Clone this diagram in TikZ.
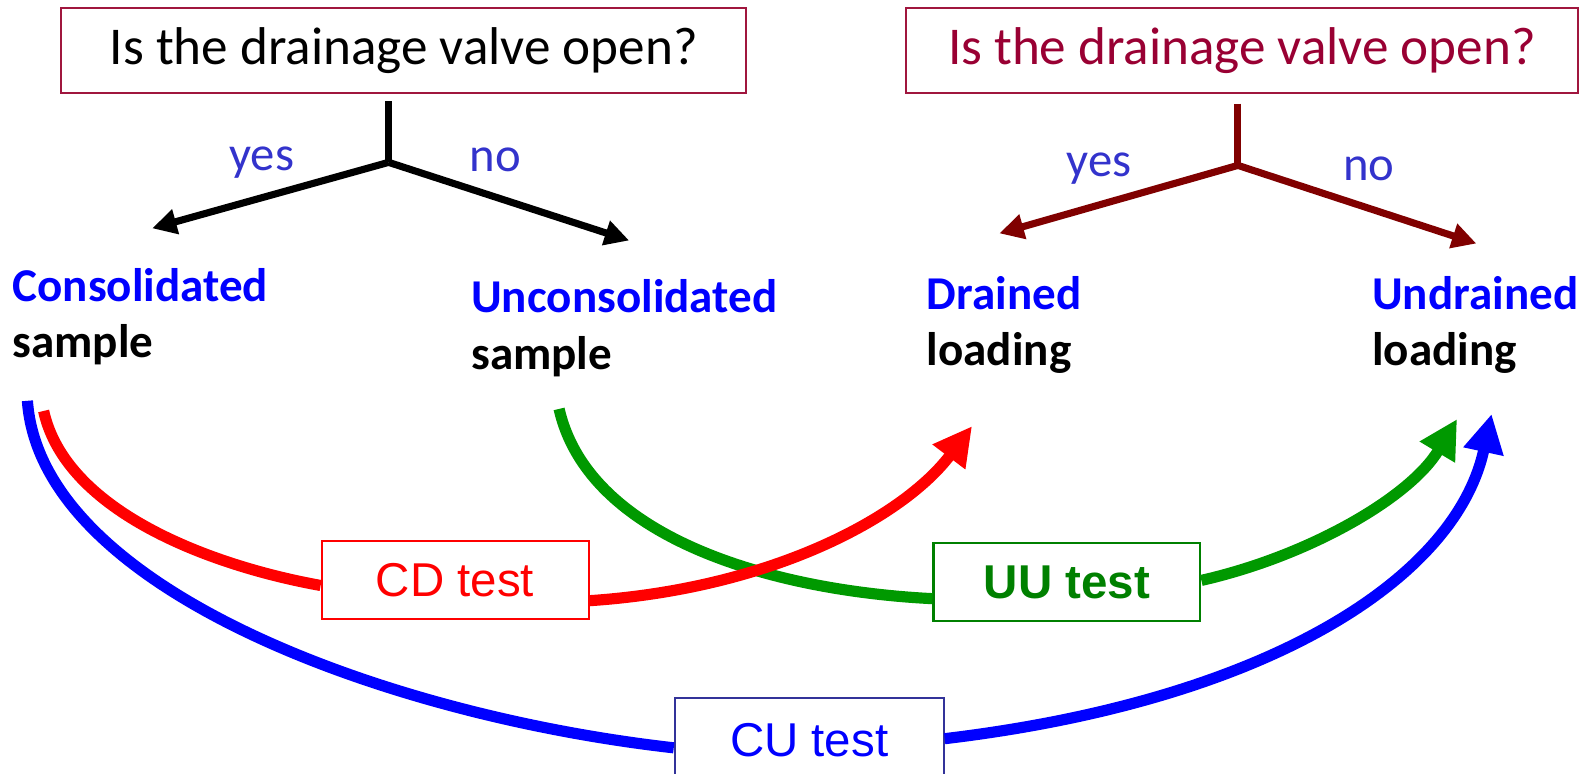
\documentclass[tikz,border=0pt]{standalone}
\usepackage{fontspec}
\setmainfont{Carlito}
\newfontfamily\arialf{Liberation Sans}
\usetikzlibrary{arrows.meta}
\definecolor{boxred}{HTML}{A0163E}
\definecolor{qred}{HTML}{990033}
\definecolor{yesblue}{HTML}{3333CC}
\definecolor{darkarrow}{HTML}{800000}
\definecolor{cugreen}{HTML}{009900}
\definecolor{uutext}{HTML}{008000}
\definecolor{cuborder}{HTML}{333399}
\tikzset{
  qbox/.style={draw=boxred, line width=1pt, fill=white, minimum height=42pt, inner sep=0pt, font=\fontsize{26.2}{30}\selectfont},
  ansl/.style={text=yesblue, font=\fontsize{24}{28}\selectfont, inner sep=0pt},
  blab/.style={anchor=base west, inner sep=0pt, font=\bfseries\fontsize{23.2}{27}\selectfont},
  treearrow/.style={line width=3.5pt, -{Triangle[length=12pt,width=12pt]}},
  treeline/.style={line width=3.5pt},
  testbox/.style={draw, line width=1pt, fill=white, minimum width=131.5pt, minimum height=38.5pt, inner sep=0pt, font=\arialf\fontsize{23.4}{27}\selectfont},
  curve/.style={line width=5.5pt, -{Triangle[length=19pt,width=19pt]}},
  curvenoarrow/.style={line width=5.5pt}
}
\begin{document}
\begin{tikzpicture}[x=0.5pt,y=-0.5pt]
\path[use as bounding box] (0,0) rectangle (1568,762);

% question boxes
\node[qbox, minimum width=337.5pt] (q1) at (398,50) {Is the drainage valve open?};
\node[qbox, minimum width=331pt, text=qred] (q2) at (1224,50) {Is the drainage valve open?};

% tree 1
\coordinate (t1) at (383,100);
\coordinate (j1) at (383,160);
\coordinate (y1) at (150,225);
\coordinate (n1) at (620,237);
\draw[treeline] (t1) -- (j1);
\draw[treearrow] (j1) -- (y1);
\draw[treearrow] (j1) -- (n1);
\node[ansl] (yes1) at (258,160) {yes};
\node[ansl] (no1) at (488,158) {no};

% tree 2
\coordinate (t2) at (1220,102);
\coordinate (j2) at (1220,163);
\coordinate (y2) at (985,230);
\coordinate (n2) at (1455,240);
\draw[treeline, darkarrow] (t2) -- (j2);
\draw[treearrow, darkarrow] (j2) -- (y2);
\draw[treearrow, darkarrow] (j2) -- (n2);
\node[ansl] (yes2) at (1083,166) {yes};
\node[ansl] (no2) at (1349,166) {no};

% labels
\node[blab, text=blue] (cons) at (12,297) {Consolidated};
\node[blab] (cons2) at (12,352) {sample};
\node[blab, text=blue] (uncons) at (464,308) {Unconsolidated};
\node[blab] (uncons2) at (464,364) {sample};
\node[blab, text=blue] (dr) at (913,305) {Drained};
\node[blab] (dr2) at (913,360) {loading};
\node[blab, text=blue] (undr) at (1352,305) {Undrained};
\node[blab] (undr2) at (1352,360) {loading};

% test boxes
\node[testbox, draw=red, text=red] (cd) at (448.5,571.5) {CD test};
\node[testbox, draw=uutext, text=uutext, font=\arialf\bfseries\fontsize{23.4}{27}\selectfont] (uu) at (1051.5,573.5) {UU test};
\node[testbox, draw=cuborder, text=blue, minimum width=132.5pt, minimum height=41pt] (cu) at (797.5,729) {CU test};

% curve endpoints
\coordinate (bs) at (27,395);
\coordinate (rs) at (43,405);
\coordinate (gs) at (551,403);
\coordinate (re) at (958,420);
\coordinate (ge) at (1436,413);
\coordinate (be) at (1470,408);

% blue CU
\draw[curvenoarrow, blue] (bs) .. controls (40,580) and (380,705) .. (cu.west |- 0,737);
\draw[curve, blue] (cu.east |- 0,728) .. controls (1250,690) and (1435,570) .. (be);
% green UU
\draw[curvenoarrow, cugreen] (gs) .. controls (580,530) and (760,582) .. (uu.west |- 0,590);
\draw[curve, cugreen] (uu.east |- 0,572) .. controls (1290,548) and (1390,490) .. (ge);
% red CD
\draw[curvenoarrow, red] (rs) .. controls (65,505) and (210,558) .. (cd.west |- 0,577);
\draw[curve, red] (cd.east |- 0,592) .. controls (760,580) and (890,510) .. (re);
\node[testbox, draw=red, text=red] at (cd) {CD test};
\end{tikzpicture}
\end{document}
